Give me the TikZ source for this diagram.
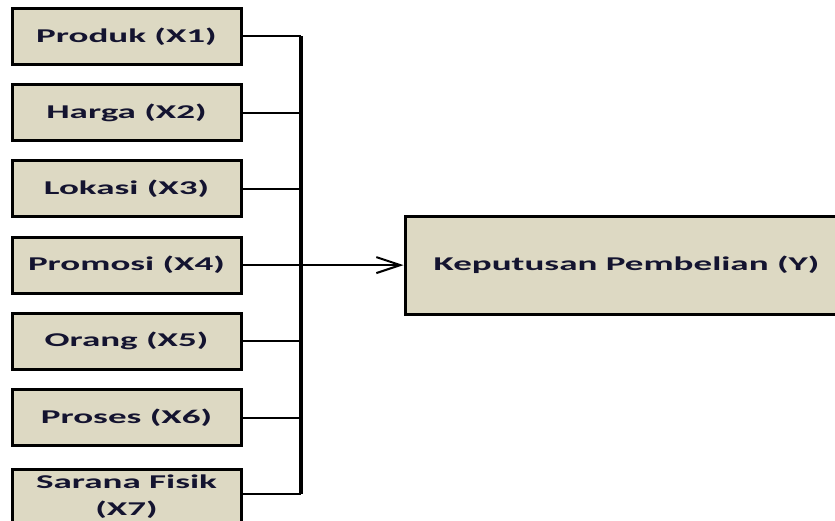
\documentclass[tikz,border=0pt]{standalone}
\usepackage{fontspec}
\setmainfont{Carlito}
\newfontfamily\boxfont{Carlito}[FakeStretch=1.9]
\usetikzlibrary{arrows.meta}
\definecolor{boxfill}{HTML}{DDD9C3}
\definecolor{txtcol}{HTML}{141430}
\begin{document}
\begin{tikzpicture}[x=1pt,y=-1pt,
  inbox/.style={draw=black, line width=3pt, fill=boxfill, minimum width=229pt,
    minimum height=56pt, inner sep=0pt, text=txtcol, align=center,
    font=\boxfont\fontsize{19.5}{27}\selectfont\bfseries},
  link/.style={line width=2pt},
  bus/.style={line width=3.5pt}]
\clip (0,0) rectangle (835,521);
\node[inbox] (x1) at (126.5,36.5) {Produk (X1)};
\node[inbox] (x2) at (126.5,112.7) {Harga (X2)};
\node[inbox] (x3) at (126.5,188.9) {Lokasi (X3)};
\node[inbox] (x4) at (126.5,265.1) {Promosi (X4)};
\node[inbox] (x5) at (126.5,341.3) {Orang (X5)};
\node[inbox] (x6) at (126.5,417.5) {Proses (X6)};
\node[inbox] (x7) at (126.5,497) {Sarana Fisik\\(X7)};
\node[inbox, minimum width=443pt, minimum height=98pt] (y) at (626.5,265.1) {Keputusan Pembelian (Y)};
\coordinate (b1) at (301,36.5);
\coordinate (b7) at (301,494);
\draw[bus] (b1) -- (b7);
\foreach \i in {1,2,3,5,6} {
  \draw[link] (x\i.east) -- (x\i.east -| b1);
}
\draw[link] (x7.east |- b7) -- (b7);
\draw[link, -{Straight Barb[length=24pt,width=16pt,line width=2pt]}] (x4.east) -- (y.west);
\end{tikzpicture}
\end{document}
